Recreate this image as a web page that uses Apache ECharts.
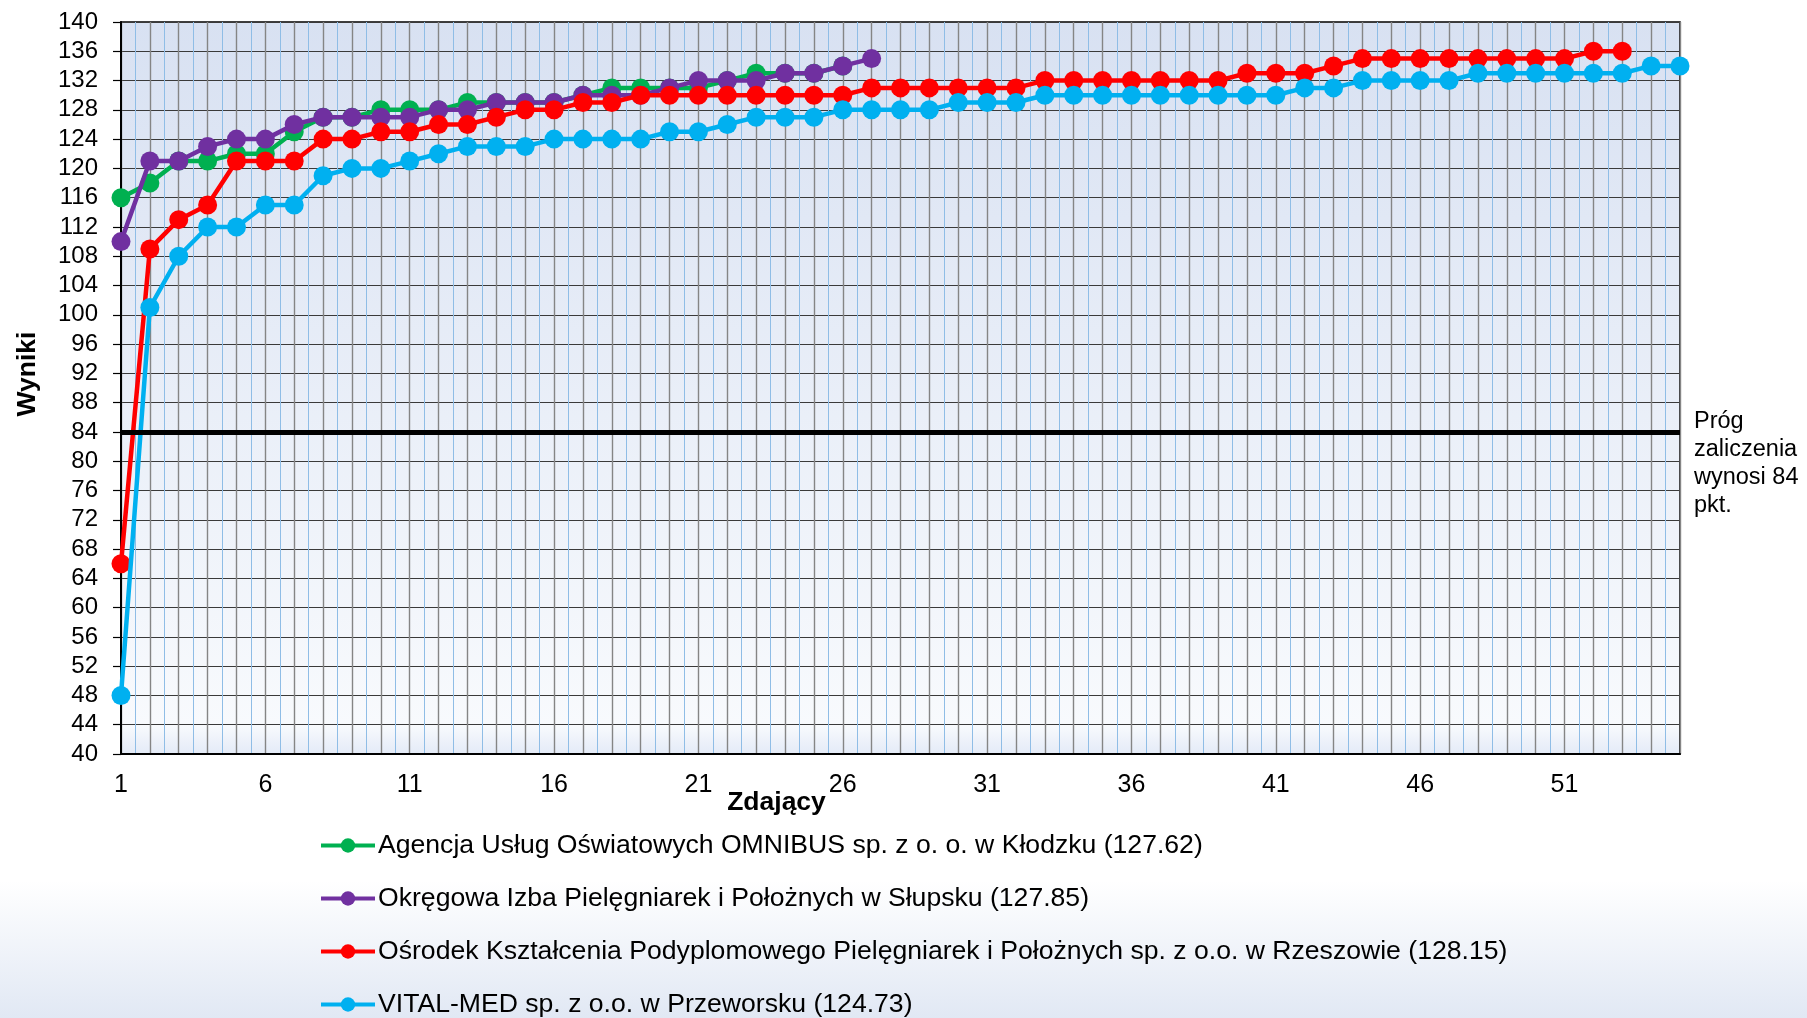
<!DOCTYPE html>
<html>
<head>
<meta charset="utf-8">
<script src="https://cdn.jsdelivr.net/npm/echarts@6/dist/echarts.min.js"></script>
<style>
html,body{margin:0;padding:0;background:#fff;}
#chart{width:1807px;height:1018px;}
</style>
</head>
<body>
<div id="chart"></div>
<script>
// ---- data ----
const seriesNames = [
  'Agencja Usług Oświatowych OMNIBUS sp. z o. o. w Kłodzku (127.62)',
  'Okręgowa Izba Pielęgniarek i Położnych w Słupsku (127.85)',
  'Ośrodek Kształcenia Podyplomowego Pielęgniarek i Położnych sp. z o.o. w Rzeszowie (128.15)',
  'VITAL-MED sp. z o.o. w Przeworsku (124.73)'
];
const omnibus = [116,118,121,121,122,122,125,127,127,128,128,128,129,129,129,129,130,131,131,131,131,132,133,133,133,134];
const slupsk = [110,121,121,123,124,124,126,127,127,127,127,128,128,129,129,129,130,130,130,131,132,132,132,133,133,134,135];
const rzeszow = [66,109,113,115,121,121,121,124,124,125,125,126,126,127,128,128,129,129,
  130,130,130,130,130,130,130,130,131,131,131,131,131,131,132,132,132,132,132,132,132,
  133,133,133,134,135,135,135,135,135,135,135,135,136,136];
const vitalmed = [48,101,108,112,112,115,115,119,120,120,121,122,123,123,123,124,124,124,124,
  125,125,126,127,127,127,128,128,128,128,129,129,129,130,130,130,130,130,130,130,130,130,
  131,131,132,132,132,132,133,133,133,133,133,133,134,134];
const xTickLabels = [1,6,11,16,21,26,31,36,41,46,51];
const threshold = 84;
const thresholdText = 'Próg\nzaliczenia\nwynosi 84\npkt.';
const xTitle = 'Zdający';
const yTitle = 'Wyniki';
const colors = ['#00b050','#7030a0','#ff0000','#00b0f0'];

const FONT = '"Liberation Sans", Arial, sans-serif';
const allData = [omnibus, slupsk, rzeszow, vitalmed];

const series = allData.map((arr, i) => {
  const s = {
    name: seriesNames[i],
    type: 'line',
    data: arr.map((v, k) => [k + 1, v]),
    symbol: 'circle',
    symbolSize: 19,
    lineStyle: {width: 4.5, color: colors[i]},
    itemStyle: {color: colors[i]},
    animation: false,
    z: 2 + i
  };
  if (i === allData.length - 1) {
    s.markLine = {
      silent: true,
      symbol: 'none',
      animation: false,
      label: {show: false},
      lineStyle: {color: '#000', width: 5, type: 'solid'},
      data: [{yAxis: threshold}],
      z: 10
    };
  }
  return s;
});

const chart = echarts.init(document.getElementById('chart'));
chart.setOption({
  animation: false,
  backgroundColor: {
    type: 'linear', x: 0, y: 0, x2: 0, y2: 1,
    colorStops: [
      {offset: 0, color: '#ffffff'},
      {offset: 0.865, color: '#ffffff'},
      {offset: 1, color: '#e1e8f4'}
    ]
  },
  textStyle: {fontFamily: FONT},
  grid: {
    left: 121, right: 127, top: 22, bottom: 264,
    show: true,
    borderColor: '#000', borderWidth: 1.5,
    backgroundColor: {
      type: 'linear', x: 0, y: 0, x2: 0, y2: 1,
      colorStops: [
        {offset: 0, color: '#d8e1f2'},
        {offset: 0.96, color: '#f8fafd'},
        {offset: 1, color: '#e3eaf7'}
      ]
    }
  },
  legend: {
    orient: 'vertical',
    left: 319, top: 832,
    height: 250,
    padding: 0,
    itemGap: 26,
    itemWidth: 54, itemHeight: 18,
    lineStyle: {width: 4},
    textStyle: {fontFamily: FONT, fontSize: 26.6, color: '#000', padding: [0,0,0,-2]},
    data: seriesNames
  },
  xAxis: {
    type: 'value',
    min: 1, max: 55, interval: 1,
    name: xTitle,
    nameLocation: 'middle',
    nameGap: 35,
    nameMoveOverlap: false,
    nameTextStyle: {fontFamily: FONT, fontSize: 26.5, fontWeight: 'bold', color: '#000', padding: [0, 248, 0, 0]},
    axisLine: {show: true, lineStyle: {color: '#000', width: 2}},
    axisTick: {show: false},
    axisLabel: {
      fontFamily: FONT, fontSize: 25, color: '#000', margin: 19,
      showMinLabel: true, showMaxLabel: true,
      formatter: v => xTickLabels.indexOf(v) >= 0 ? String(v) : ''
    },
    splitLine: {show: true, lineStyle: {color: '#858585', width: 1.4}},
    minorTick: {show: false, splitNumber: 2},
    minorSplitLine: {show: true, lineStyle: {color: '#8fbde6', width: 1}}
  },
  yAxis: {
    type: 'value',
    min: 40, max: 140, interval: 4,
    name: yTitle,
    nameLocation: 'middle',
    nameGap: 80,
    nameMoveOverlap: false,
    nameTextStyle: {fontFamily: FONT, fontSize: 26.5, fontWeight: 'bold', color: '#000', padding: [0, 0, 0, 28]},
    axisLine: {show: true, lineStyle: {color: '#000', width: 2}},
    axisTick: {show: true, length: 8, lineStyle: {color: '#000', width: 1.2}},
    axisLabel: {fontFamily: FONT, fontSize: 24, color: '#000', margin: 23},
    splitLine: {show: true, lineStyle: {color: '#3a3a3a', width: 1.2}}
  },
  graphic: [{
    type: 'text',
    left: 1694, top: 408,
    style: {
      text: thresholdText,
      font: '23.5px ' + FONT,
      fill: '#000',
      lineHeight: 28
    }
  }],
  series: series
});
</script>
</body>
</html>
